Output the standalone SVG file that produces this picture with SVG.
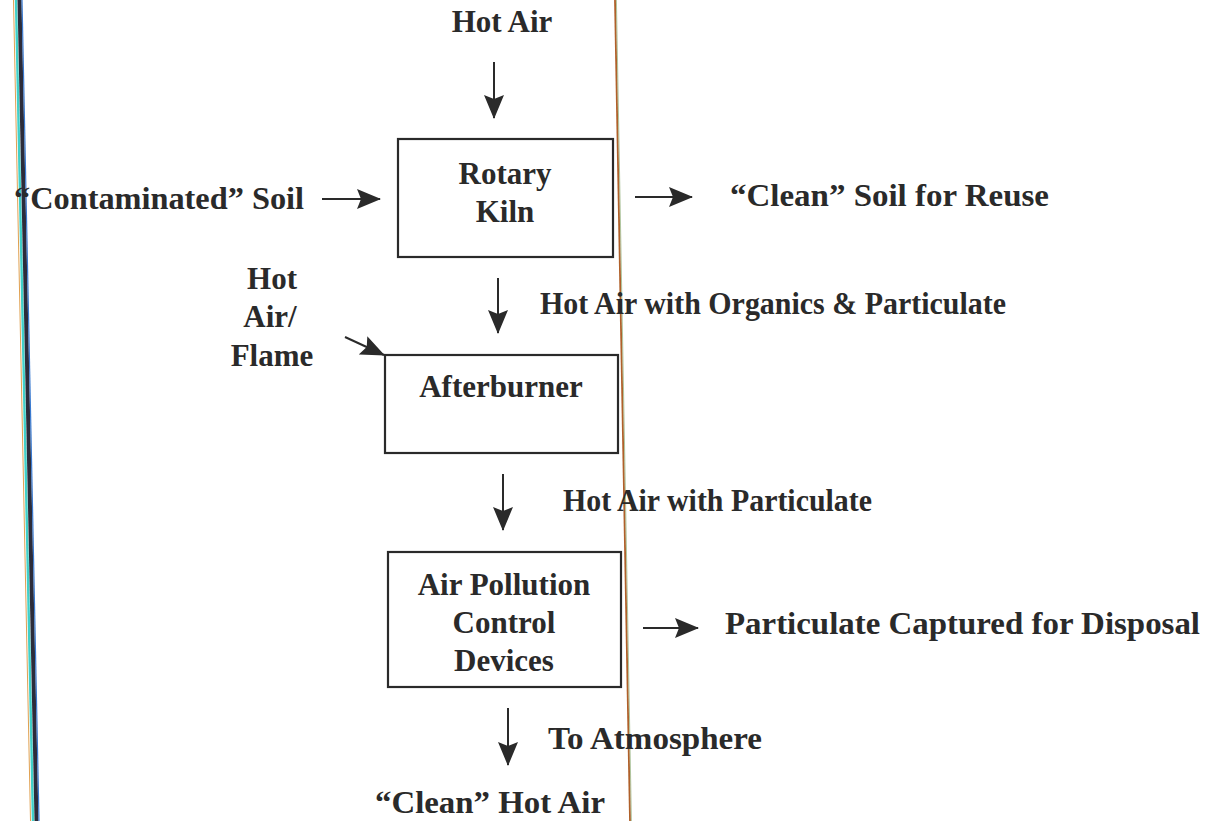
<svg xmlns="http://www.w3.org/2000/svg" width="1211" height="821" viewBox="0 0 1211 821">
  <style>
    .t { font-family: "Liberation Serif", "Times New Roman", serif; font-weight: bold; font-size: 31px; fill: #2a2a2a; }
    .c { text-anchor: middle; }
    .box { fill: none; stroke: #2a2a2a; stroke-width: 2.2; }
    .flow { stroke: #2a2a2a; stroke-width: 2; fill: none; marker-end: url(#head); }
  </style>
  <defs>
    <marker id="head" viewBox="0 0 24 20" refX="23" refY="10" markerWidth="24" markerHeight="20" markerUnits="userSpaceOnUse" orient="auto">
      <path d="M0,0 L24,10 L0,20 L4,10 Z" fill="#2a2a2a"/>
    </marker>
  </defs>
  <rect width="1211" height="821" fill="#ffffff"/>

  <!-- edge strokes of the sheet -->
  <g id="edges">
    <line x1="13.5" y1="0" x2="30.5" y2="821" stroke="#e0a050" stroke-width="1"/>
    <line x1="16" y1="0" x2="33" y2="821" stroke="#40d0c8" stroke-width="2.4"/>
    <line x1="19.5" y1="0" x2="36.5" y2="821" stroke="#2c2c3a" stroke-width="4"/>
    <line x1="22" y1="0" x2="39" y2="821" stroke="#3a7ad0" stroke-width="1.2"/>
    <line x1="615" y1="0" x2="630" y2="821" stroke="#b0602a" stroke-width="1.8"/>
    <line x1="616.4" y1="0" x2="631.4" y2="821" stroke="#7aa060" stroke-width="0.6"/>
  </g>

  <g id="connectors">
    <line class="flow" x1="494" y1="62" x2="494" y2="118"/>
    <line class="flow" x1="322" y1="199" x2="380" y2="199"/>
    <line class="flow" x1="635" y1="197" x2="692" y2="197"/>
    <line class="flow" x1="498" y1="278" x2="498" y2="333"/>
    <line class="flow" x1="345" y1="337" x2="384" y2="355"/>
    <line class="flow" x1="503" y1="474" x2="503" y2="530"/>
    <line class="flow" x1="643" y1="628" x2="698" y2="628"/>
    <line class="flow" x1="508" y1="708" x2="508" y2="765"/>
  </g>

  <g id="hot-air-in">
    <text class="t c" x="502" y="32">Hot Air</text>
  </g>
  <g id="contaminated-soil">
    <text class="t" x="14" y="209" textLength="290" lengthAdjust="spacingAndGlyphs">“Contaminated” Soil</text>
  </g>
  <g id="rotary-kiln">
    <rect class="box" x="398" y="139" width="215" height="118"/>
    <text class="t c" x="505" y="184">Rotary</text>
    <text class="t c" x="505" y="222">Kiln</text>
  </g>
  <g id="clean-soil">
    <text class="t" x="730" y="206" textLength="319" lengthAdjust="spacingAndGlyphs">“Clean” Soil for Reuse</text>
  </g>
  <g id="hot-air-flame">
    <text class="t c" x="272" y="289">Hot</text>
    <text class="t c" x="270" y="327">Air/</text>
    <text class="t c" x="272" y="366">Flame</text>
  </g>
  <g id="organics-label">
    <text class="t" x="540" y="314" textLength="466" lengthAdjust="spacingAndGlyphs">Hot Air with Organics &amp; Particulate</text>
  </g>
  <g id="afterburner">
    <rect class="box" x="385" y="355" width="233" height="98"/>
    <text class="t c" x="501" y="397">Afterburner</text>
  </g>
  <g id="particulate-label">
    <text class="t" x="563" y="511" textLength="309" lengthAdjust="spacingAndGlyphs">Hot Air with Particulate</text>
  </g>
  <g id="apc-devices">
    <rect class="box" x="388" y="552" width="233" height="135"/>
    <text class="t c" x="504" y="595">Air Pollution</text>
    <text class="t c" x="504" y="633">Control</text>
    <text class="t c" x="504" y="671">Devices</text>
  </g>
  <g id="captured-label">
    <text class="t" x="725" y="634" textLength="475" lengthAdjust="spacingAndGlyphs">Particulate Captured for Disposal</text>
  </g>
  <g id="atmosphere-label">
    <text class="t" x="548" y="749" textLength="214" lengthAdjust="spacingAndGlyphs">To Atmosphere</text>
  </g>
  <g id="clean-hot-air">
    <text class="t" x="375" y="813" textLength="230" lengthAdjust="spacingAndGlyphs">“Clean” Hot Air</text>
  </g>
</svg>
